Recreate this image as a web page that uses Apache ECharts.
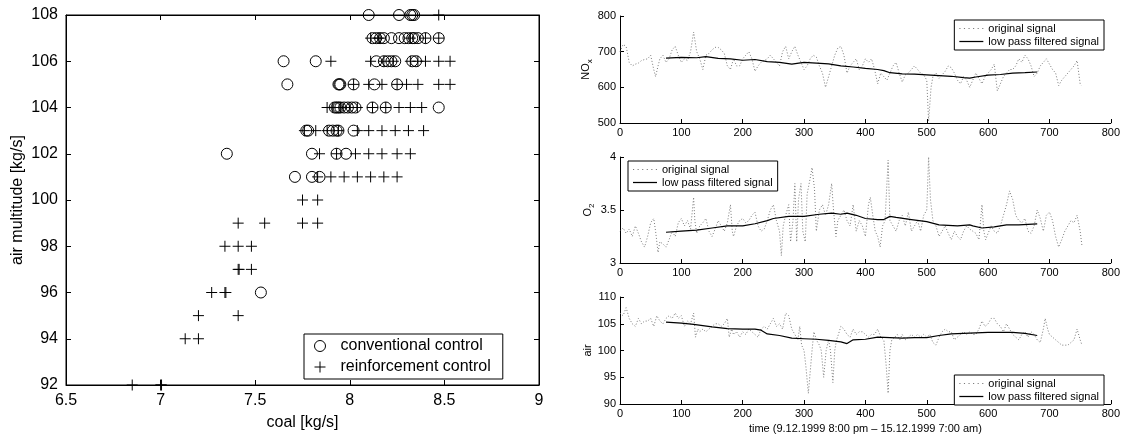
<!DOCTYPE html>
<html><head><meta charset="utf-8">
<script src="https://cdn.jsdelivr.net/npm/echarts@6/dist/echarts.min.js"></script>
<style>html,body{margin:0;padding:0;background:#fff}#c{width:1123px;height:436px}</style>
</head><body><div id="c"></div>
<script>
// ---------- Left scatter: [coal, air] ----------
const conventional = [
  [8.10,108],[8.26,108],[8.32,108],[8.33,108],[8.34,108],
  [8.12,107],[8.14,107],[8.16,107],[8.18,107],[8.22,107],[8.26,107],[8.29,107],[8.31,107],[8.33,107],[8.34,107],[8.36,107],[8.40,107],[8.47,107],
  [7.65,106],[7.82,106],[8.14,106],[8.18,106],[8.20,106],[8.22,106],[8.24,106],[8.33,106],[8.35,106],
  [7.67,105],[7.94,105],[7.945,105],[7.95,105],[8.02,105],[8.13,105],[8.25,105],
  [7.92,104],[7.93,104],[7.94,104],[7.95,104],[7.97,104],[7.99,104],[8.01,104],[8.03,104],[8.12,104],[8.19,104],[8.47,104],
  [7.77,103],[7.78,103],[7.89,103],[7.91,103],[7.93,103],[7.94,103],[8.02,103],
  [7.35,102],[7.80,102],[7.93,102],[7.98,102],
  [7.71,101],[7.80,101],[7.84,101],
  [7.53,96]
];
const reinforcement = [
  [8.47,108],
  [8.11,107],[8.15,107],[8.16,107],[8.32,107],[8.40,107],[8.47,107],
  [7.90,106],[8.11,106],[8.18,106],[8.23,106],[8.32,106],[8.36,106],[8.40,106],[8.47,106],[8.53,106],
  [8.02,105],[8.10,105],[8.17,105],[8.25,105],[8.30,105],[8.36,105],[8.47,105],[8.53,105],
  [7.88,104],[7.91,104],[7.95,104],[8.00,104],[8.04,104],[8.12,104],[8.19,104],[8.26,104],[8.32,104],[8.38,104],
  [7.76,103],[7.82,103],[7.88,103],[7.94,103],[8.04,103],[8.10,103],[8.17,103],[8.24,103],[8.31,103],[8.39,103],
  [7.84,102],[7.93,102],[8.03,102],[8.10,102],[8.17,102],[8.25,102],[8.32,102],
  [7.83,101],[7.90,101],[7.97,101],[8.04,101],[8.11,101],[8.18,101],[8.25,101],
  [7.75,100],[7.83,100],
  [7.41,99],[7.55,99],[7.75,99],[7.83,99],
  [7.34,98],[7.41,98],[7.48,98],
  [7.41,97],[7.415,97],[7.48,97],
  [7.27,96],[7.34,96],[7.345,96],
  [7.20,95],[7.41,95],
  [7.13,94],[7.20,94],
  [6.85,92],[7.00,92],[7.005,92]
];

// ---------- Right time series: [time, value] ----------
const noxOriginal = [[0,700],[5,720],[10,715],[15,670],[20,660],[25,665],[30,668],[35,675],[40,678],[45,680],[50,690],[55,650],[58,630],[62,660],[65,680],[70,690],[75,670],[80,680],[85,705],[90,715],[95,690],[100,670],[105,680],[110,675],[115,700],[120,755],[125,700],[130,680],[135,650],[140,690],[145,695],[150,705],[155,712],[160,712],[165,705],[170,695],[175,660],[180,650],[185,680],[190,660],[195,660],[200,680],[205,690],[210,700],[215,680],[220,645],[225,660],[230,670],[235,675],[240,680],[245,690],[250,680],[255,670],[260,660],[265,700],[270,715],[275,680],[280,700],[285,715],[290,690],[295,670],[300,650],[305,660],[310,680],[315,690],[320,685],[325,660],[330,640],[335,600],[340,630],[345,660],[350,690],[355,710],[360,715],[365,690],[370,640],[375,660],[380,670],[385,680],[390,650],[395,660],[400,680],[405,670],[410,680],[415,650],[420,610],[425,640],[430,630],[435,620],[440,640],[445,660],[450,670],[455,640],[460,615],[465,635],[470,640],[475,650],[480,660],[485,650],[490,640],[495,635],[500,620],[503,505],[507,600],[510,630],[515,640],[520,625],[525,635],[530,645],[535,660],[540,655],[545,640],[550,620],[555,610],[560,630],[565,620],[570,600],[575,620],[580,640],[585,625],[590,610],[595,630],[600,640],[605,650],[610,665],[615,590],[620,610],[625,630],[630,640],[635,650],[640,650],[645,660],[650,680],[655,670],[660,690],[665,680],[670,660],[675,630],[680,640],[685,660],[690,670],[695,680],[700,665],[705,650],[710,640],[715,605],[720,620],[725,630],[730,640],[735,650],[740,660],[745,675],[750,610],[752,605]];
const noxFiltered = [[75,682],[100,684],[125,683],[140,686],[160,681],[180,680],[200,676],[220,678],[240,672],[260,670],[280,665],[300,670],[320,668],[340,666],[360,660],[380,657],[400,653],[420,650],[430,647],[440,641],[460,638],[480,637],[500,635],[520,633],[540,631],[560,627],[570,626],[580,629],[600,634],[620,636],[640,640],[660,641],[680,643]];

const o2Original = [[0,3.30],[5,3.33],[10,3.28],[15,3.32],[20,3.25],[25,3.35],[30,3.28],[35,3.20],[40,3.15],[45,3.25],[50,3.38],[55,3.42],[58,3.30],[62,3.10],[65,3.20],[70,3.18],[75,3.15],[80,3.22],[85,3.30],[90,3.25],[95,3.38],[100,3.42],[105,3.35],[110,3.40],[115,3.32],[120,3.62],[122,3.40],[125,3.28],[130,3.35],[135,3.38],[140,3.42],[145,3.30],[150,3.25],[155,3.32],[160,3.40],[165,3.35],[170,3.30],[175,3.38],[180,3.55],[183,3.30],[185,3.25],[190,3.35],[195,3.40],[200,3.42],[205,3.38],[210,3.40],[215,3.45],[220,3.48],[225,3.35],[230,3.30],[235,3.32],[240,3.40],[245,3.50],[250,3.55],[255,3.40],[260,3.30],[263,3.07],[266,3.35],[270,3.45],[275,3.55],[278,3.20],[282,3.40],[285,3.75],[288,3.20],[291,3.60],[295,3.75],[298,3.30],[302,3.20],[305,3.65],[310,3.80],[313,3.90],[317,3.70],[320,3.30],[325,3.50],[330,3.55],[335,3.45],[340,3.55],[345,3.75],[348,3.50],[352,3.25],[355,3.40],[360,3.45],[365,3.50],[370,3.40],[375,3.35],[380,3.55],[385,3.30],[390,3.40],[395,3.35],[400,3.25],[405,3.55],[408,3.62],[412,3.45],[416,3.30],[420,3.25],[424,3.15],[428,3.35],[432,3.40],[437,3.97],[440,3.40],[445,3.35],[450,3.30],[455,3.40],[460,3.45],[465,3.35],[470,3.48],[475,3.30],[480,3.35],[485,3.40],[490,3.30],[495,3.45],[500,3.50],[503,4.00],[506,3.60],[510,3.40],[515,3.35],[520,3.25],[525,3.30],[530,3.35],[535,3.28],[540,3.22],[545,3.30],[550,3.25],[555,3.22],[560,3.30],[565,3.35],[570,3.32],[575,3.30],[580,3.28],[585,3.22],[590,3.55],[593,3.30],[596,3.22],[600,3.28],[605,3.35],[610,3.30],[615,3.28],[620,3.35],[625,3.45],[630,3.55],[635,3.68],[640,3.60],[645,3.45],[650,3.40],[655,3.38],[660,3.42],[665,3.30],[670,3.28],[675,3.35],[680,3.50],[685,3.42],[690,3.30],[695,3.45],[700,3.48],[705,3.40],[710,3.25],[715,3.15],[720,3.22],[725,3.30],[730,3.35],[735,3.40],[740,3.38],[745,3.45],[750,3.30],[753,3.16]];
const o2Filtered = [[75,3.29],[100,3.30],[125,3.31],[150,3.33],[175,3.35],[200,3.35],[220,3.37],[240,3.40],[250,3.42],[275,3.44],[300,3.44],[325,3.46],[345,3.47],[360,3.46],[370,3.47],[385,3.45],[400,3.42],[420,3.41],[430,3.41],[440,3.44],[450,3.43],[475,3.41],[500,3.39],[520,3.36],[550,3.35],[570,3.36],[575,3.35],[590,3.33],[610,3.34],[630,3.36],[650,3.36],[680,3.37]];

const airOriginal = [[0,107],[5,106.5],[10,108],[15,106],[20,105],[25,104.5],[30,106],[35,105],[40,105.5],[45,105.5],[50,106],[55,104.5],[60,106.5],[65,105.5],[70,105],[75,106],[80,106.5],[85,106],[90,107],[95,106],[100,106.5],[105,104.5],[110,105.5],[115,105],[120,107],[123,102.5],[127,104],[130,103.5],[135,104],[140,103.5],[145,104],[150,104.5],[155,105],[160,105],[165,104.5],[170,105],[175,106],[178,102.5],[182,104],[185,103],[190,103.5],[195,102.5],[200,103.5],[205,103],[210,104],[215,103.5],[220,103],[225,102.5],[230,104],[235,104.5],[240,104],[245,105],[250,106],[255,104.5],[260,105],[265,104],[270,107],[275,106.5],[280,104],[285,103],[290,102],[293,104.5],[296,101],[300,100],[303,97],[307,92],[310,96],[313,100],[316,103.5],[320,102],[325,101],[328,100],[332,95],[336,100],[340,102],[343,100],[347,94],[350,100],[353,102],[356,103],[360,104.5],[365,104],[370,103],[375,102.5],[380,104],[385,103],[390,103.5],[395,103.5],[400,103],[405,102.5],[410,103],[415,103],[420,104],[425,102.5],[430,102],[434,97],[437,92],[440,100],[443,102],[448,102.5],[452,103],[456,102],[460,103],[465,102],[470,102.5],[475,103],[480,102.5],[485,103],[490,102.5],[495,103],[500,102.5],[505,103],[510,101.5],[515,101],[520,102.5],[525,103.5],[530,104],[535,103.5],[540,103.5],[545,102],[550,102.5],[555,103],[560,103.5],[565,103],[570,103.5],[575,103],[580,103],[585,104],[590,105.5],[595,104.5],[600,105],[605,106],[610,106],[615,105],[620,104.5],[625,103.5],[630,105],[635,104],[640,103],[645,102.5],[650,102],[655,103],[660,103.5],[665,102.5],[670,103.5],[675,103],[680,102],[685,101.5],[690,104],[693,106],[697,104],[700,103],[705,102.5],[710,102],[715,101.5],[720,101],[725,101],[730,101],[735,101.5],[740,102],[745,104],[750,102],[753,101]];
const airFiltered = [[75,105.3],[100,105.1],[120,104.9],[150,104.4],[175,104.1],[200,104.0],[220,104.0],[230,103.8],[240,103.1],[260,102.8],[280,102.3],[300,102.2],[320,102.1],[340,101.9],[360,101.6],[370,101.3],[380,102.0],[400,102.1],[420,102.5],[440,102.4],[460,102.3],[480,102.4],[500,102.4],[520,102.8],[540,103.1],[560,103.2],[580,103.3],[600,103.4],[620,103.4],[640,103.4],[660,103.2],[680,102.8]];

const coalTicks = {min:6.5, max:9, interval:0.5};
const airTicks = {min:92, max:108, interval:2};
const timeTicks = {min:0, max:800, interval:100};
const noxTicks = {min:500, max:800, interval:100};
const o2Ticks = {min:3, max:4, interval:0.5};
const airSeriesTicks = {min:90, max:110, interval:5};

const FONT = 'Liberation Sans, Arial, Helvetica, sans-serif';
const black = '#000';
const origColor = '#7a7a7a';
const plusPath = 'path://M0,5L10,5M5,0L5,10';
const dottedIcon = 'path://M0,0h1v1h-1zM4,0h1v1h-1zM8,0h1v1h-1zM12,0h1v1h-1zM16,0h1v1h-1zM20,0h1v1h-1z';
const solidIcon = 'path://M0,0h21v1.1h-21z';

function rightX(gi, showName) {
  return Object.assign({
    type:'value', gridIndex:gi, position:'bottom',
    axisLine:{show:true, onZero:false, lineStyle:{color:black, width:1}},
    axisTick:{show:true, inside:true, length:4, lineStyle:{color:black}},
    axisLabel:{color:black, fontSize:11, fontFamily:FONT, margin:4},
    splitLine:{show:false},
    name: showName ? 'time (9.12.1999 8:00 pm \u2013 15.12.1999 7:00 am)' : '',
    nameLocation:'middle', nameGap:19,
    nameTextStyle:{color:black, fontSize:11, fontFamily:FONT}
  }, timeTicks);
}
function rightY(gi, ticks, name, rich) {
  return Object.assign({
    type:'value', gridIndex:gi,
    axisLine:{show:true, onZero:false, lineStyle:{color:black, width:1}},
    axisTick:{show:true, inside:true, length:4, lineStyle:{color:black}},
    axisLabel:{color:black, fontSize:11, fontFamily:FONT, margin:4},
    splitLine:{show:false},
    name:name, nameLocation:'middle', nameGap:24, nameRotate:90,
    nameTextStyle:{color:black, fontSize:11, fontFamily:FONT, rich:rich}
  }, ticks);
}
const subRich = {
  n:{fontSize:11, fontFamily:FONT, color:black, lineHeight:16, verticalAlign:'middle'},
  s:{fontSize:8, fontFamily:FONT, color:black, lineHeight:16, verticalAlign:'bottom'}
};

function origSeries(data, xi, yi) {
  return {type:'line', name:'original signal', xAxisIndex:xi, yAxisIndex:yi, data:data,
    showSymbol:false, symbol:'none', silent:true,
    lineStyle:{color:origColor, width:1, type:[1,2]}, itemStyle:{color:origColor}};
}
function filtSeries(data, xi, yi) {
  return {type:'line', name:'low pass filtered signal', xAxisIndex:xi, yAxisIndex:yi, data:data,
    showSymbol:false, symbol:'none', silent:true, smooth:false,
    lineStyle:{color:black, width:1.2}, itemStyle:{color:black}};
}
function rightLegend(pos) {
  return Object.assign({
    orient:'vertical', itemWidth:24, itemHeight:8, itemGap:2, padding:[3,5,3,5],
    borderColor:black, borderWidth:1, backgroundColor:'#fff', borderRadius:0,
    textStyle:{color:black, fontSize:11, fontFamily:FONT},
    selectedMode:false,
    data:[
      {name:'original signal', icon:dottedIcon, itemStyle:{color:origColor, borderWidth:0}},
      {name:'low pass filtered signal', icon:solidIcon, itemStyle:{color:black, borderWidth:0}}
    ]
  }, pos);
}

const option = {
  backgroundColor:'#fff',
  animation:false,
  textStyle:{fontFamily:FONT},
  grid:[
    {left:66, top:15, width:473, height:372, show:true, borderColor:black, borderWidth:1, backgroundColor:'transparent'},
    {left:620, top:16, width:492, height:107},
    {left:620, top:157, width:492, height:106},
    {left:620, top:297, width:492, height:107}
  ],
  xAxis:[
    Object.assign({type:'value', gridIndex:0, position:'bottom',
      axisLine:{show:true, onZero:false, lineStyle:{color:black}},
      axisTick:{show:true, inside:true, length:5, lineStyle:{color:black}},
      axisLabel:{color:black, fontSize:16, fontFamily:FONT, margin:8},
      splitLine:{show:false},
      name:'coal [kg/s]', nameLocation:'middle', nameGap:30,
      nameTextStyle:{color:black, fontSize:16, fontFamily:FONT}}, coalTicks),
    Object.assign({type:'value', gridIndex:0, position:'top',
      axisLine:{show:true, onZero:false, lineStyle:{color:black}},
      axisTick:{show:true, inside:true, length:5, lineStyle:{color:black}},
      axisLabel:{show:false}, splitLine:{show:false}}, coalTicks),
    rightX(1,false), rightX(2,false), rightX(3,true)
  ],
  yAxis:[
    Object.assign({type:'value', gridIndex:0, position:'left',
      axisLine:{show:true, onZero:false, lineStyle:{color:black}},
      axisTick:{show:true, inside:true, length:5, lineStyle:{color:black}},
      axisLabel:{color:black, fontSize:16, fontFamily:FONT, margin:8},
      splitLine:{show:false},
      name:'air multitude [kg/s]', nameLocation:'middle', nameGap:40, nameRotate:90,
      nameTextStyle:{color:black, fontSize:16, fontFamily:FONT}}, airTicks),
    Object.assign({type:'value', gridIndex:0, position:'right',
      axisLine:{show:true, onZero:false, lineStyle:{color:black}},
      axisTick:{show:true, inside:true, length:5, lineStyle:{color:black}},
      axisLabel:{show:false}, splitLine:{show:false}}, airTicks),
    rightY(1, noxTicks, '{n|NO}{s|x}', subRich),
    rightY(2, o2Ticks, '{n|O}{s|2}', subRich),
    rightY(3, airSeriesTicks, 'air', undefined)
  ],
  legend:[
    {left:304, top:334, orient:'vertical', itemWidth:31, itemHeight:11, itemGap:5, padding:[4,12,4,10],
     borderColor:black, borderWidth:1, backgroundColor:'#fff', borderRadius:0, selectedMode:false,
     textStyle:{color:black, fontSize:16, fontFamily:FONT},
     data:[
       {name:'conventional control', icon:'circle', itemStyle:{color:'transparent', borderColor:black, borderWidth:1}},
       {name:'reinforcement control', icon:plusPath, itemStyle:{color:'transparent', borderColor:black, borderWidth:1}}
     ]},
    rightLegend({right:19, top:20}),
    rightLegend({left:628, top:161}),
    rightLegend({right:19, top:375})
  ],
  series:[
    {type:'scatter', name:'conventional control', xAxisIndex:0, yAxisIndex:0, data:conventional,
     symbol:'circle', symbolSize:11, silent:true, clip:false,
     itemStyle:{color:'transparent', borderColor:black, borderWidth:1, opacity:1}},
    {type:'scatter', name:'reinforcement control', xAxisIndex:0, yAxisIndex:0, data:reinforcement,
     symbol:plusPath, symbolSize:11, silent:true, clip:false,
     itemStyle:{color:'transparent', borderColor:black, borderWidth:1, opacity:1}},
    origSeries(noxOriginal,2,2), filtSeries(noxFiltered,2,2),
    origSeries(o2Original,3,3), filtSeries(o2Filtered,3,3),
    origSeries(airOriginal,4,4), filtSeries(airFiltered,4,4)
  ]
};
const chart = echarts.init(document.getElementById('c'), null, {renderer:'canvas'});
chart.setOption(option);
</script></body></html>
